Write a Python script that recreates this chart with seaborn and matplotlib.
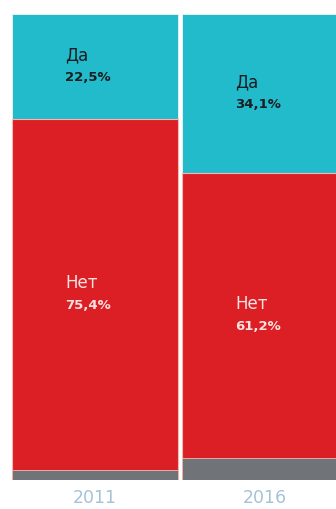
import matplotlib
matplotlib.use("Agg")
import matplotlib.pyplot as plt
import seaborn as sns
import pandas as pd
import numpy as np

years = ["2011", "2016"]
da = [22.5, 34.1]
net = [75.4, 61.2]
other = [2.1, 4.7]
da_labels = ["22,5%", "34,1%"]
net_labels = ["75,4%", "61,2%"]

sns.set_style("white")
plt.rcParams["font.family"] = ["DejaVu Sans"]

df = pd.DataFrame({"year": years, "da": da, "net": net, "other": other})
df["lvl_other"] = df["other"]
df["lvl_net"] = df["other"] + df["net"]
df["lvl_da"] = df["lvl_net"] + df["da"]

fig = plt.figure(figsize=(3.36, 5.09), dpi=100)
ax = fig.add_axes([0, 29 / 509, 1, 466 / 509])

W = 0.976
c_da, c_net, c_oth = "#22BBCB", "#DB1F25", "#707377"
sns.barplot(data=df, x="year", y="lvl_da", color=c_da, width=W, ax=ax,
            edgecolor="#f2f2f2", linewidth=0.6, saturation=1)
sns.barplot(data=df, x="year", y="lvl_net", color=c_net, width=W, ax=ax,
            edgecolor="#f6b8b2", linewidth=0.8, saturation=1)
sns.barplot(data=df, x="year", y="lvl_other", color=c_oth, width=W, ax=ax,
            edgecolor="#f6b8b2", linewidth=0.6, saturation=1)

ax.set_yticks([])
ax.set_xlabel("")
ax.set_ylabel("")
for s in ax.spines.values():
    s.set_visible(False)

ax.tick_params(axis="x", which="major", length=0, pad=6.5, labelsize=12.5,
               labelcolor="#A6C2D6")
ax.set_xticks([-0.5, 0.5], minor=True)
ax.tick_params(axis="x", which="minor", length=7, width=1.0, color="#B5CDE0",
               direction="out")
ax.set_xlim(-95 / 170, (336 - 95) / 170)
ax.set_ylim(0, 100)

for i in range(len(years)):
    xl = i - 0.176
    mid_da = df["lvl_net"][i] + da[i] / 2
    mid_net = df["lvl_other"][i] + net[i] / 2
    ax.annotate("Да", (xl, mid_da), xytext=(0, 8), textcoords="offset points",
                ha="left", va="center", fontsize=12, color="#1a1d22")
    ax.annotate(da_labels[i], (xl, mid_da), xytext=(0, -8), textcoords="offset points",
                ha="left", va="center", fontsize=9.5, fontweight="bold", color="#1a1d22")
    ax.annotate("Нет", (xl, mid_net), xytext=(0, 8), textcoords="offset points",
                ha="left", va="center", fontsize=12, color="#FBE2E2")
    ax.annotate(net_labels[i], (xl, mid_net), xytext=(0, -8), textcoords="offset points",
                ha="left", va="center", fontsize=9.5, fontweight="bold", color="#FBE2E2")

fig.savefig("out.png", dpi=100, facecolor="white")
